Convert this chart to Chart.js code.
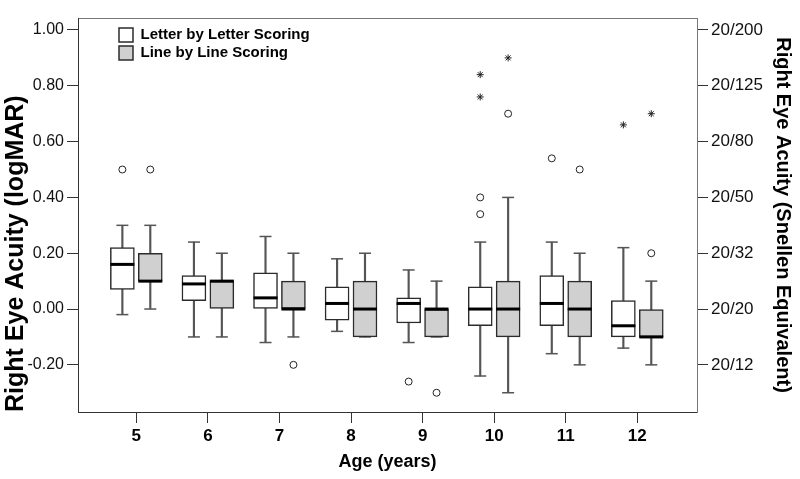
<!DOCTYPE html>
<html>
<head>
<meta charset="utf-8">
<script src="https://cdn.jsdelivr.net/npm/chart.js@4.4.1/dist/chart.umd.min.js"></script>
<style>
  body { margin: 0; background: #fff; }
  #wrap { width: 800px; height: 479px; }
</style>
</head>
<body>
<div id="wrap"><canvas id="chart"></canvas></div>
<script>
// Ages on the x axis
const ages = [5, 6, 7, 8, 9, 10, 11, 12];

// Letter by letter scoring (logMAR)
const letterMin = [-0.02, -0.10, -0.12, -0.08, -0.12, -0.24, -0.16, -0.14];
const letterQ1 = [0.07, 0.03, 0.00, -0.04, -0.05, -0.06, -0.06, -0.10];
const letterMedian = [0.16, 0.09, 0.04, 0.02, 0.02, 0.00, 0.02, -0.06];
const letterQ3 = [0.22, 0.12, 0.13, 0.08, 0.04, 0.08, 0.12, 0.03];
const letterMax = [0.30, 0.24, 0.26, 0.18, 0.14, 0.24, 0.24, 0.22];
const letterOutliers = [[0.50], [], [], [], [-0.26], [0.34, 0.40], [0.54], []];
const letterExtremes = [[], [], [], [], [], [0.76, 0.84], [], [0.66]];

// Line by line scoring (logMAR)
const lineMin = [0.00, -0.10, -0.10, -0.10, -0.10, -0.30, -0.20, -0.20];
const lineQ1 = [0.10, 0.00, 0.00, -0.10, -0.10, -0.10, -0.10, -0.10];
const lineMedian = [0.10, 0.10, 0.00, 0.00, 0.00, 0.00, 0.00, -0.10];
const lineQ3 = [0.20, 0.10, 0.10, 0.10, 0.00, 0.10, 0.10, 0.00];
const lineMax = [0.30, 0.20, 0.20, 0.20, 0.10, 0.40, 0.20, 0.10];
const lineOutliers = [[0.50], [], [-0.20], [], [-0.30], [0.70], [0.50], [0.20]];
const lineExtremes = [[], [], [], [], [], [0.90], [], [0.70]];

// Tick labels
const logmarTicks = [-0.2, 0, 0.2, 0.4, 0.6, 0.8, 1.0];
const snellenLabels = ['20/12', '20/20', '20/32', '20/50', '20/80', '20/125', '20/200'];

const fontFamily = "'Liberation Sans', Arial, Helvetica, sans-serif";
const shift = 0.195;

// Build data points
function rangeData(lo, hi, dx) {
  return ages.map((a, i) => ({ x: a + dx, y: [lo[i], hi[i]] }));
}
function pointData(vals, dx) {
  return ages.map((a, i) => ({ x: a + dx, y: vals[i] }));
}
function listData(lists, dx) {
  return ages.flatMap((a, i) => lists[i].map((v) => ({ x: a + dx, y: v })));
}

// One box plot series = box, whisker, caps, median, outliers, extremes
function boxSeries(label, fill, mins, q1, med, q3, maxs, outs, extremes, dx) {
  return [
    {
      type: 'bar',
      label: label,
      isBox: true,
      data: rangeData(q1, q3, dx),
      backgroundColor: fill,
      borderColor: '#2b2b2b',
      borderWidth: 1.5,
      borderSkipped: false,
      barThickness: 24,
      grouped: false,
      order: 3,
    },
    {
      type: 'bar',
      label: label + ' whisker',
      data: rangeData(mins, maxs, dx),
      backgroundColor: '#555',
      borderWidth: 0,
      barThickness: 1.5,
      grouped: false,
      order: 5,
    },
    {
      type: 'scatter',
      label: label + ' caps',
      data: pointData(mins, dx).concat(pointData(maxs, dx)),
      pointStyle: 'line',
      pointRadius: 6,
      pointBorderColor: '#555',
      pointBorderWidth: 1.5,
      order: 4,
    },
    {
      type: 'scatter',
      label: label + ' median',
      data: pointData(med, dx),
      pointStyle: 'line',
      pointRadius: 12,
      pointBorderColor: '#000',
      pointBorderWidth: 3,
      order: 2,
    },
    {
      type: 'scatter',
      label: label + ' outliers',
      data: listData(outs, dx),
      pointStyle: 'circle',
      pointRadius: 3.5,
      pointBackgroundColor: '#fff',
      pointBorderColor: '#222',
      pointBorderWidth: 1,
      order: 1,
    },
    {
      type: 'scatter',
      label: label + ' extremes',
      data: listData(extremes, dx),
      pointStyle: 'star',
      pointRadius: 3.5,
      pointBorderColor: '#222',
      pointBorderWidth: 1,
      order: 1,
    },
  ];
}

const datasets = [
  ...boxSeries('Letter by Letter Scoring', '#ffffff', letterMin, letterQ1, letterMedian, letterQ3, letterMax, letterOutliers, letterExtremes, -shift),
  ...boxSeries('Line by Line Scoring', '#d0d0d0', lineMin, lineQ1, lineMedian, lineQ3, lineMax, lineOutliers, lineExtremes, shift),
];

// Move the legend inside the plot
const legendShift = {
  id: 'legendShift',
  afterLayout(chart) {
    chart.legend.left += 38;
    chart.legend.top += 24.5;
  },
};

const yTicks = (scale) => {
  scale.ticks = logmarTicks.map((v) => ({ value: v }));
};

new Chart(document.getElementById('chart'), {
  type: 'bar',
  data: { datasets: datasets },
  plugins: [legendShift],
  options: {
    responsive: true,
    maintainAspectRatio: false,
    animation: false,
    layout: { padding: { top: 18, left: 0, right: 0, bottom: 0 } },
    plugins: {
      tooltip: { enabled: false },
      legend: {
        position: 'chartArea',
        align: 'start',
        labels: {
          boxWidth: 14,
          boxHeight: 14,
          padding: 3,
          color: '#000',
          font: { family: fontFamily, size: 15, weight: 'bold' },
          filter: (item, data) => data.datasets[item.datasetIndex].isBox,
        },
      },
    },
    scales: {
      x: {
        type: 'linear',
        position: 'bottom',
        min: 4.185,
        max: 12.834,
        offset: false,
        afterBuildTicks: (scale) => {
          scale.ticks = ages.map((a) => ({ value: a }));
        },
        afterFit: (scale) => {
          scale.height = 67;
        },
        grid: { offset: false, drawOnChartArea: false, tickLength: 11, tickColor: '#333' },
        border: { color: '#333', width: 1 },
        ticks: {
          color: '#000',
          padding: 3,
          maxRotation: 0,
          font: { family: fontFamily, size: 17, weight: 'bold' },
          callback: (v) => String(v),
        },
        title: {
          display: true,
          text: 'Age (years)',
          color: '#000',
          padding: { top: 0, bottom: 6 },
          font: { family: fontFamily, size: 18, weight: 'bold' },
        },
      },
      xTop: {
        type: 'linear',
        position: 'top',
        afterFit: (scale) => {
          scale.height = 0;
        },
        grid: { drawOnChartArea: false, drawTicks: false },
        border: { color: '#777', width: 1 },
        ticks: { display: false },
      },
      y: {
        type: 'linear',
        position: 'left',
        min: -0.369,
        max: 1.043,
        afterBuildTicks: yTicks,
        afterFit: (scale) => {
          scale.width = 78;
        },
        grid: { drawOnChartArea: false, tickLength: 11, tickColor: '#333' },
        border: { color: '#333', width: 1 },
        ticks: {
          color: '#111',
          padding: 3,
          font: { family: fontFamily, size: 16 },
          callback: (v) => Number(v).toFixed(2),
        },
        title: {
          display: true,
          text: 'Right Eye Acuity (logMAR)',
          color: '#000',
          align: 'start',
          padding: { top: 1, bottom: 0 },
          font: { family: fontFamily, size: 25, weight: 'bold' },
        },
      },
      y2: {
        type: 'linear',
        position: 'right',
        min: -0.369,
        max: 1.043,
        afterBuildTicks: yTicks,
        afterFit: (scale) => {
          scale.width = 103;
        },
        grid: { drawOnChartArea: false, tickLength: 11, tickColor: '#333' },
        border: { color: '#777', width: 1 },
        ticks: {
          color: '#111',
          padding: 3,
          font: { family: fontFamily, size: 17 },
          callback: (v) => snellenLabels[logmarTicks.findIndex((t) => Math.abs(t - v) < 1e-6)],
        },
        title: {
          display: true,
          text: 'Right Eye Acuity (Snellen Equivalent)',
          color: '#000',
          padding: { top: 5, bottom: 0 },
          font: { family: fontFamily, size: 20, weight: 'bold' },
        },
      },
    },
  },
});
</script>
</body>
</html>
